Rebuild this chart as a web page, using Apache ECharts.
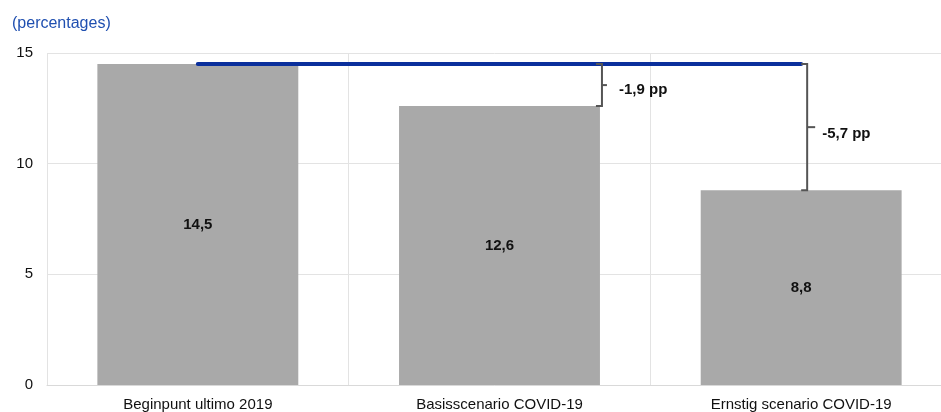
<!DOCTYPE html>
<html>
<head>
<meta charset="utf-8">
<script src="https://cdn.jsdelivr.net/npm/echarts@6/dist/echarts.min.js"></script>
<style>
  html, body { margin: 0; padding: 0; background: #fff; overflow: hidden; }
  #chart { width: 941px; height: 412px; }
</style>
</head>
<body>
<div id="chart"></div>
<script>
// Scenario labels and values (percentages)
const categories = ['Beginpunt ultimo 2019', 'Basisscenario COVID-19', 'Ernstig scenario COVID-19'];
const values = [14.5, 12.6, 8.8];
const startLevel = [14.5, 14.5, 14.5];
// Differences vs. the starting point: [category index, from, to, label]
const diffs = [
  [1, 14.5, 12.6, '-1,9 pp'],
  [2, 14.5, 8.8, '-5,7 pp']
];
const yTicks = { min: 0, max: 15, interval: 5 };

// Where each bracket sits: next to the bar's right edge, or at the bar's middle
const braceAnchor = [
  { at: 'edge', dx: 2, tick: 5, gap: 17, textDy: 5 },
  { at: 'center', dx: 6, tick: 8, gap: 15, textDy: 7 }
];

const FONT = 'Liberation Sans, Arial, sans-serif';
const fmt = v => v.toFixed(1).replace('.', ',');
const BAR_RATIO = 0.666;

const chart = echarts.init(document.getElementById('chart'));
chart.setOption({
  animation: false,
  title: {
    text: '(percentages)',
    left: 7, top: 11,
    textStyle: { color: '#1f4fb0', fontSize: 16, fontWeight: 'normal', fontFamily: FONT }
  },
  grid: { left: 47, width: 905, top: 53, bottom: 27, containLabel: false, outerBoundsMode: 'none' },
  xAxis: {
    type: 'category',
    data: categories,
    axisLine: { lineStyle: { color: '#d9d9d9', width: 1 } },
    axisTick: { show: false },
    splitLine: { show: true, lineStyle: { color: '#e3e3e3', width: 1 } },
    axisLabel: { color: '#111', fontSize: 15, margin: 12, fontFamily: FONT }
  },
  yAxis: {
    type: 'value',
    min: yTicks.min, max: yTicks.max, interval: yTicks.interval,
    axisLine: { show: false },
    axisTick: { show: false },
    splitLine: { lineStyle: { color: '#e3e3e3', width: 1 } },
    axisLabel: { color: '#111', fontSize: 15, margin: 14, padding: [4, 0, 0, 0], fontFamily: FONT }
  },
  series: [
    {
      type: 'bar',
      data: values,
      barWidth: (BAR_RATIO * 100) + '%',
      itemStyle: { color: '#a9a9a9' },
      label: {
        show: true, position: 'inside',
        formatter: p => fmt(p.value),
        color: '#111', fontSize: 15, fontWeight: 'bold', fontFamily: FONT
      },
      z: 2
    },
    {
      type: 'line',
      data: startLevel,
      symbol: 'none',
      lineStyle: { color: '#0a2f9c', width: 4, cap: 'round' },
      z: 3
    },
    {
      type: 'custom',
      data: diffs,
      z: 4,
      renderItem: function (params, api) {
        const a = braceAnchor[params.dataIndex];
        const idx = api.value(0);
        const top = api.coord([idx, api.value(1)]);
        const bot = api.coord([idx, api.value(2)]);
        const band = api.size([1, 0])[0];
        const base = a.at === 'edge' ? top[0] + band * BAR_RATIO / 2 : top[0];
        const x = base + a.dx;
        const y1 = top[1], y2 = bot[1];
        const ym = (y1 + y2) / 2;
        const st = { stroke: '#555', lineWidth: 2, fill: null };
        return {
          type: 'group',
          children: [
            { type: 'polyline', shape: { points: [[x - 6, y1], [x, y1], [x, y2], [x - 6, y2]] }, style: st },
            { type: 'line', shape: { x1: x, y1: ym, x2: x + a.tick, y2: ym }, style: st },
            {
              type: 'text',
              style: {
                x: x + a.gap, y: ym + a.textDy,
                text: diffs[params.dataIndex][3],
                fill: '#111', fontSize: 15, fontWeight: 'bold', fontFamily: FONT,
                verticalAlign: 'middle', align: 'left'
              }
            }
          ]
        };
      }
    }
  ]
});
</script>
</body>
</html>
